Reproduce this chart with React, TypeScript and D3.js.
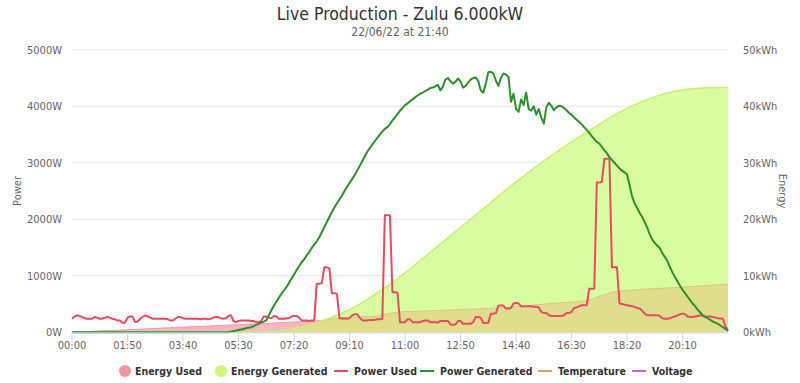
import React from "react";
import * as d3 from "d3";

// ---------- DATA ----------
const title = "Live Production - Zulu 6.000kW";
const subtitle = "22/06/22 at 21:40";
const xTickLabels = ["00:00","01:50","03:40","05:30","07:20","09:10","11:00","12:50","14:40","16:30","18:20","20:10"];
const xTickMinutes = [0,110,220,330,440,550,660,770,880,990,1100,1210];
const powerTicks = [0,1000,2000,3000,4000,5000];
const energyTicks = [0,10,20,30,40,50];

// Power used (W), every 5 minutes from 00:00 to 21:40
const powerUsed = [
  240,280,300,290,270,250,240,240,240,270,260,240,
  240,260,270,260,240,230,210,210,170,170,260,280,
  280,180,190,240,270,300,280,260,240,240,240,240,
  240,240,230,210,210,240,270,270,250,240,240,240,
  240,240,240,230,240,240,230,240,260,270,270,250,
  240,250,290,300,200,180,200,210,210,210,210,200,
  200,180,180,200,280,280,260,250,290,280,240,240,
  240,250,250,280,290,290,260,210,210,210,200,210,
  210,860,860,870,1150,1150,1130,690,690,680,250,245,
  245,240,250,300,320,320,260,215,210,210,220,215,
  220,230,230,240,2070,2070,2070,710,710,700,180,180,
  180,230,230,180,180,180,180,200,210,210,180,180,
  180,170,200,200,200,200,140,135,140,200,200,150,
  150,150,150,180,270,270,260,165,165,170,330,330,
  340,470,480,470,420,420,430,510,520,510,460,460,
  460,460,460,450,450,440,360,340,340,300,290,290,
  290,290,290,300,340,340,360,430,440,460,480,480,
  480,770,770,770,2650,2650,2660,3070,3070,3070,1150,1150,
  1150,510,500,490,480,470,460,450,430,420,380,330,
  300,300,300,300,300,290,250,240,240,250,270,280,
  300,320,330,320,280,270,270,280,290,300,290,280,
  280,280,270,260,250,245,240,100,30
];

// Power generated (W), every 5 minutes from 00:00 to 21:40
const powerGenerated = [
  0,0,0,0,0,0,0,0,0,0,0,0,
  0,0,0,0,0,0,0,0,0,0,0,0,
  0,0,0,0,0,0,0,0,0,0,0,0,
  0,0,0,0,0,0,0,0,0,0,0,0,
  0,0,0,0,0,0,0,0,0,0,0,0,
  0,0,0,10,20,30,40,50,60,70,80,90,
  110,130,150,170,190,210,300,390,470,540,610,680,
  740,800,870,950,1020,1100,1170,1240,1290,1360,1420,1490,
  1550,1610,1680,1770,1860,1950,2040,2130,2210,2280,2350,2420,
  2500,2570,2640,2710,2780,2860,2940,3020,3110,3190,3260,3320,
  3380,3440,3500,3550,3600,3630,3680,3750,3800,3860,3920,3970,
  4020,4050,4090,4120,4160,4190,4220,4240,4270,4290,4320,4330,
  4350,4380,4280,4350,4470,4500,4440,4400,4430,4490,4440,4330,
  4360,4420,4470,4500,4510,4450,4280,4240,4400,4600,4610,4580,
  4450,4360,4500,4580,4560,4520,4080,4220,3950,3900,4120,4020,
  4240,3950,3920,4000,3850,3950,3800,3690,3980,4060,4010,3930,
  3980,4010,4000,3970,3930,3880,3850,3800,3760,3720,3680,3630,
  3580,3530,3470,3420,3370,3340,3280,3220,3170,3100,3050,3000,
  2950,2900,2860,2830,2790,2600,2400,2280,2200,2110,2040,1950,
  1850,1730,1640,1580,1530,1490,1400,1330,1260,1150,1060,980,
  900,820,750,690,630,570,510,460,400,350,300,270,
  250,220,190,170,150,120,90,60,30
];

// Cumulative energy (kWh), every 30 minutes, last point at 21:40
const energyMinutes = [0,30,60,90,120,150,180,210,240,270,300,330,360,390,420,450,480,510,540,570,600,630,660,690,720,750,780,810,840,870,900,930,960,990,1020,1050,1080,1110,1140,1170,1200,1230,1260,1290,1300];
const energyGenerated = [0,0,0,0,0,0,0,0,0,0,0,0.02,0.05,0.12,0.35,0.85,1.55,2.5,3.6,5.0,6.7,8.5,10.5,12.7,14.9,17.1,19.3,21.5,23.7,25.9,28.0,30.0,31.9,33.7,35.4,37.1,38.7,40.05,41.2,42.1,42.75,43.1,43.25,43.3,43.3];
const energyUsed = [0,0.13,0.26,0.38,0.5,0.63,0.75,0.87,0.99,1.11,1.24,1.36,1.47,1.6,1.73,1.86,1.95,2.3,2.6,2.7,2.8,3.35,3.65,3.75,3.85,3.95,4.05,4.15,4.3,4.5,4.7,4.95,5.15,5.35,5.6,6.5,7.25,7.45,7.65,7.8,7.95,8.1,8.3,8.45,8.5];

const legendItems = [
  { name: "Energy Used", kind: "circle", color: "#f7919f" },
  { name: "Energy Generated", kind: "circle", color: "#d0f57a" },
  { name: "Power Used", kind: "line", color: "#e84a5f" },
  { name: "Power Generated", kind: "line", color: "#2b912b" },
  { name: "Temperature", kind: "line", color: "#e3a15a" },
  { name: "Voltage", kind: "line", color: "#c46ac6" },
];

// ---------- LAYOUT ----------
const W = 800, H = 383;
const L = 72, R = 728, T = 49.7, B = 332.3;
const FONT = "'DejaVu Sans Condensed', 'DejaVu Sans', sans-serif";
const legendPos = [
  { sx: 125, tx: 135 },
  { sx: 221, tx: 231 },
  { sx: 341, tx: 354 },
  { sx: 427, tx: 440 },
  { sx: 545, tx: 558 },
  { sx: 639, tx: 652 },
];

export default function App() {
  const x = d3.scaleLinear().domain([0, 1300]).range([L, R]);
  const yP = d3.scaleLinear().domain([0, 5000]).range([B, T]);
  const yE = d3.scaleLinear().domain([0, 50]).range([B, T]);

  const pUsed = powerUsed.map((v, i) => [i * 5, v] as [number, number]);
  const pGen = powerGenerated.map((v, i) => [i * 5, v] as [number, number]);
  const eGen = energyMinutes.map((t, i) => [t, energyGenerated[i]] as [number, number]);
  const eUsed = energyMinutes.map((t, i) => [t, energyUsed[i]] as [number, number]);

  const areaE = d3.area<[number, number]>()
    .x(d => x(d[0])).y0(yE(0)).y1(d => yE(d[1])).curve(d3.curveMonotoneX);
  const lineE = d3.line<[number, number]>()
    .x(d => x(d[0])).y(d => yE(d[1])).curve(d3.curveMonotoneX);
  const lineP = d3.line<[number, number]>()
    .x(d => x(d[0])).y(d => yP(d[1]));

  const genArea = areaE(eGen) || "";
  const usedArea = areaE(eUsed) || "";

  return (
    <svg width={W} height={H} style={{ display: "block", position: "absolute", left: 0, top: 0 }} fontFamily={FONT}>
      <rect x={0} y={0} width={W} height={H} fill="#ffffff" />
      <defs>
        <clipPath id="genClip"><path d={genArea} /></clipPath>
      </defs>
      {/* title */}
      <text x={400} y={20} textAnchor="middle" fontSize={17.5} fill="#333333">{title}</text>
      <text x={400} y={36} textAnchor="middle" fontSize={12} fill="#666666">{subtitle}</text>

      {/* grid */}
      {powerTicks.map(t => (
        <line key={"g" + t} x1={L} x2={R} y1={yP(t)} y2={yP(t)} stroke="#e6e6e6" strokeWidth={1} />
      ))}

      {/* energy areas */}
      <path d={usedArea} fill="#f9b6c1" stroke="none" />
      <path d={lineE(eUsed) || ""} fill="none" stroke="#f59aab" strokeWidth={1} />
      <path d={genArea} fill="#dafca0" stroke="none" />
      <g clipPath="url(#genClip)">
        <path d={usedArea} fill="#e0dd8c" stroke="none" />
        <path d={lineE(eUsed) || ""} fill="none" stroke="#d8c584" strokeWidth={1} />
      </g>
      <path d={lineE(eGen) || ""} fill="none" stroke="#c7f06e" strokeWidth={1.5} />

      {/* power lines */}
      <path d={lineP(pUsed) || ""} fill="none" stroke="#e84a5f" strokeWidth={2} strokeLinejoin="round" />
      <path d={lineP(pGen) || ""} fill="none" stroke="#2b912b" strokeWidth={2} strokeLinejoin="round" />

      {/* x axis */}
      <line x1={L} x2={R} y1={B + 0.5} y2={B + 0.5} stroke="#ccd6eb" strokeWidth={1} />
      {xTickMinutes.map((m, i) => (
        <g key={"x" + m}>
          <line x1={x(m)} x2={x(m)} y1={B} y2={B + 10} stroke="#ccd6eb" strokeWidth={1} />
          <text x={x(m)} y={349} textAnchor="middle" fontSize={11} fill="#666666">{xTickLabels[i]}</text>
        </g>
      ))}

      {/* y axes */}
      {powerTicks.map(t => (
        <text key={"yl" + t} x={62} y={yP(t) + 4} textAnchor="end" fontSize={11} fill="#666666">{t + "W"}</text>
      ))}
      {energyTicks.map(t => (
        <text key={"yr" + t} x={743} y={yE(t) + 4} textAnchor="start" fontSize={11} fill="#666666">{t + "kWh"}</text>
      ))}
      <text transform={`translate(21,${(T + B) / 2}) rotate(-90)`} textAnchor="middle" fontSize={11} fill="#666666">Power</text>
      <text transform={`translate(779,${(T + B) / 2}) rotate(90)`} textAnchor="middle" fontSize={11} fill="#666666">Energy</text>

      {/* legend */}
      {legendItems.map((it, i) => (
        <g key={it.name}>
          {it.kind === "circle"
            ? <circle cx={legendPos[i].sx} cy={371} r={6} fill={it.color} />
            : <line x1={legendPos[i].sx - 7} x2={legendPos[i].sx + 7} y1={371} y2={371} stroke={it.color} strokeWidth={2} />}
          <text x={legendPos[i].tx} y={375} fontSize={10.5} fontWeight="bold" fill="#333333">{it.name}</text>
        </g>
      ))}
    </svg>
  );
}
